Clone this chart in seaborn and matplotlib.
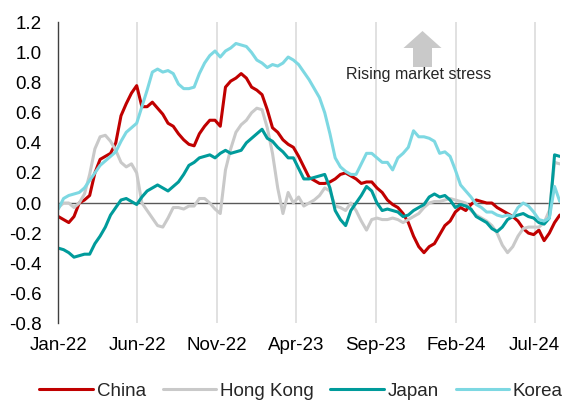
import pandas as pd
import matplotlib.pyplot as plt
import matplotlib.dates as mdates
from matplotlib.patches import FancyArrow
import seaborn as sns

# values, one point every 10 days from 1 Jan 2022
dates = pd.date_range("2022-01-01", periods=97, freq="10D")

china = [-0.09, -0.11, -0.13, -0.09, 0.0, 0.02, 0.05, 0.2, 0.29, 0.31,
         0.33, 0.40, 0.58, 0.66, 0.73, 0.78, 0.64, 0.64, 0.67, 0.63,
         0.59, 0.53, 0.51, 0.46, 0.42, 0.39, 0.38, 0.46, 0.51, 0.55,
         0.55, 0.51, 0.77, 0.81, 0.83, 0.86, 0.83, 0.77, 0.75, 0.72,
         0.62, 0.50, 0.47, 0.42, 0.39, 0.37, 0.31, 0.24, 0.17, 0.15,
         0.13, 0.13, 0.14, 0.16, 0.19, 0.20, 0.18, 0.16, 0.13, 0.14,
         0.14, 0.10, 0.07, 0.02, -0.01, -0.03, -0.07, -0.13, -0.22, -0.29,
         -0.33, -0.29, -0.27, -0.21, -0.15, -0.12, -0.06, -0.03, -0.05, -0.01,
         0.02, 0.01, 0.0, 0.0, -0.03, -0.05, -0.07, -0.09, -0.12, -0.17,
         -0.20, -0.21, -0.18, -0.25, -0.20, -0.13, -0.08]

hong_kong = [-0.03, 0.0, 0.0, -0.03, 0.0, 0.06, 0.19, 0.36, 0.44, 0.45,
             0.41, 0.35, 0.27, 0.24, 0.26, 0.20, 0.0, -0.05, -0.10, -0.15,
             -0.16, -0.10, -0.03, -0.03, -0.04, -0.02, -0.02, 0.03, 0.03, 0.0,
             -0.04, -0.07, 0.22, 0.36, 0.47, 0.52, 0.55, 0.60, 0.63, 0.62,
             0.50, 0.33, 0.10, -0.07, 0.07, 0.0, 0.04, -0.02, 0.0, 0.02,
             0.05, 0.10, 0.08, -0.02, -0.03, -0.05, 0.0, -0.05, -0.12, -0.18,
             -0.11, -0.10, -0.11, -0.11, -0.10, -0.11, -0.13, -0.11, -0.09, -0.07,
             -0.03, 0.0, 0.01, 0.01, 0.02, 0.03, 0.02, 0.01, 0.0, -0.05,
             -0.08, -0.10, -0.12, -0.15, -0.20, -0.28, -0.33, -0.29, -0.22, -0.17,
             -0.16, -0.16, -0.16, -0.13, -0.05, 0.27, 0.26]

japan = [-0.30, -0.31, -0.33, -0.36, -0.35, -0.34, -0.34, -0.27, -0.22, -0.16,
         -0.08, -0.03, 0.02, 0.03, 0.01, -0.01, 0.04, 0.08, 0.10, 0.12,
         0.10, 0.08, 0.11, 0.14, 0.19, 0.25, 0.27, 0.30, 0.31, 0.32,
         0.30, 0.33, 0.35, 0.33, 0.34, 0.35, 0.40, 0.43, 0.46, 0.49,
         0.43, 0.41, 0.37, 0.34, 0.30, 0.30, 0.23, 0.16, 0.16, 0.17,
         0.18, 0.19, 0.10, -0.05, -0.11, -0.15, -0.05, 0.0, 0.05, 0.11,
         0.08, 0.0, -0.05, -0.04, -0.05, -0.06, -0.09, -0.08, -0.05, -0.03,
         -0.01, 0.04, 0.06, 0.04, 0.05, 0.02, -0.03, -0.01, -0.02, -0.04,
         -0.09, -0.11, -0.13, -0.17, -0.19, -0.16, -0.11, -0.09, -0.08, -0.07,
         -0.09, -0.10, -0.13, -0.14, -0.10, 0.32, 0.31]

korea = [-0.04, 0.03, 0.05, 0.06, 0.07, 0.10, 0.15, 0.20, 0.25, 0.28,
         0.31, 0.34, 0.41, 0.47, 0.50, 0.53, 0.64, 0.75, 0.87, 0.89,
         0.87, 0.88, 0.86, 0.79, 0.76, 0.76, 0.77, 0.86, 0.93, 0.98,
         1.01, 0.97, 1.01, 1.03, 1.06, 1.05, 1.04, 1.00, 0.95, 0.93,
         0.90, 0.92, 0.91, 0.93, 0.97, 0.95, 0.92, 0.87, 0.82, 0.76,
         0.70, 0.60, 0.46, 0.30, 0.24, 0.21, 0.19, 0.19, 0.26, 0.33,
         0.33, 0.30, 0.27, 0.27, 0.22, 0.30, 0.33, 0.37, 0.48, 0.44,
         0.44, 0.43, 0.41, 0.33, 0.34, 0.31, 0.22, 0.12, 0.08, 0.04,
         -0.01, -0.03, -0.06, -0.06, -0.08, -0.09, -0.08, -0.09, -0.03, 0.0,
         -0.02, -0.06, -0.11, -0.12, -0.10, 0.11, 0.01]

markets = ["China", "Hong Kong", "Japan", "Korea"]
colors = ["#C00000", "#C9C9C9", "#009B9B", "#7DD8E2"]
x_ticks = pd.date_range("2022-01-01", periods=7, freq="5MS")
y_ticks = [-0.8, -0.6, -0.4, -0.2, 0.0, 0.2, 0.4, 0.6, 0.8, 1.0, 1.2]

wide = pd.DataFrame({"date": dates, "China": china, "Hong Kong": hong_kong,
                     "Japan": japan, "Korea": korea})
df = wide.melt(id_vars="date", var_name="market", value_name="value")

sns.set_style("white")
plt.rcParams["font.family"] = ["Liberation Sans", "DejaVu Sans"]

fig = plt.figure(figsize=(5.63, 4.01), dpi=100)
ax = fig.add_axes([0.1036, 0.1935, 0.8907, 0.7506])

sns.lineplot(data=df, x="date", y="value", hue="market", hue_order=markets,
             palette=dict(zip(markets, colors)), linewidth=2.2, ax=ax)

ax.axhline(0, color="#595959", linewidth=1.0, zorder=1)
ax.set_xlim(dates[0], dates[-1])
ax.set_ylim(-0.8, 1.2)
ax.set_yticks(y_ticks)
ax.set_yticklabels([f"{v:.1f}" for v in y_ticks])
ax.set_xticks(x_ticks)
ax.xaxis.set_major_formatter(mdates.DateFormatter("%b-%y"))
ax.grid(axis="x", color="#D9D9D9", linewidth=1.1)
ax.grid(axis="y", visible=False)
ax.set_axisbelow(True)
ax.tick_params(axis="both", length=0, labelsize=13.5, colors="black")
ax.tick_params(axis="y", pad=12)
ax.tick_params(axis="x", pad=10)
ax.set_xlabel("")
ax.set_ylabel("")
for side in ["top", "right", "bottom"]:
    ax.spines[side].set_visible(False)
ax.spines["left"].set_color("#404040")
ax.spines["left"].set_linewidth(1.0)

handles, labels = ax.get_legend_handles_labels()
ax.get_legend().remove()
fig.legend(handles, labels, loc="center", bbox_to_anchor=(0.535, 0.025),
           ncol=4, frameon=False, fontsize=13.5, handlelength=2.85,
           handletextpad=0.2, columnspacing=0.9)

# "Rising market stress" marker
arrow = FancyArrow(4.225, 3.34, 0, 0.36, width=0.19, head_width=0.38,
                   head_length=0.17, length_includes_head=True,
                   transform=fig.dpi_scale_trans, color="#C9C9C9", linewidth=0)
fig.add_artist(arrow)
fig.text(419 / 563, 1 - 74 / 401, "Rising market stress", fontsize=11.5,
         ha="center", va="center")

fig.savefig("out.png", dpi=100)
